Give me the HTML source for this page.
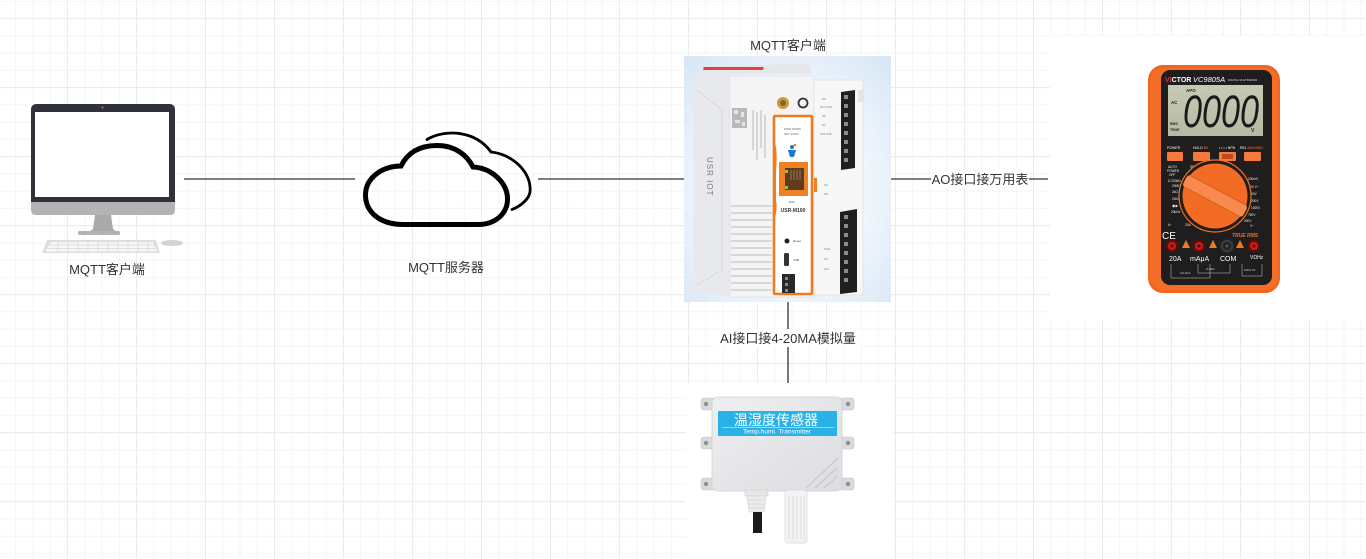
<!DOCTYPE html>
<html><head><meta charset="utf-8"><style>
html,body{margin:0;padding:0;}
body{width:1366px;height:559px;overflow:hidden;position:relative;background-color:#fff;
background-image:
linear-gradient(to right,#ebebeb 1px,transparent 1px),
linear-gradient(to bottom,#ebebeb 1px,transparent 1px),
linear-gradient(to right,#f4f4f4 1px,transparent 1px),
linear-gradient(to bottom,#f4f4f4 1px,transparent 1px);
background-size:69px 100%,100% 69px,17.25px 100%,100% 17.25px;
background-position:67px 0,0 18.15px,15.25px 0,0 0.9px;
font-family:"Liberation Sans","Noto Sans CJK SC",sans-serif;}
svg{position:absolute;left:0;top:0;}
text{font-family:"Liberation Sans","Noto Sans CJK SC",sans-serif;}
</style></head><body>
<svg width="1366" height="559" viewBox="0 0 1366 559" xmlns="http://www.w3.org/2000/svg">
<defs>
<radialGradient id="devbg" cx="50%" cy="55%" r="75%">
<stop offset="0.25" stop-color="#ffffff"/><stop offset="1" stop-color="#d6e5f6"/>
</radialGradient>
<linearGradient id="boxg" x1="0" y1="0" x2="1" y2="1">
<stop offset="0" stop-color="#eeeff1"/><stop offset="1" stop-color="#dcdde0"/>
</linearGradient>
<linearGradient id="lcdg" x1="0" y1="0" x2="0" y2="1">
<stop offset="0" stop-color="#c7c9b4"/><stop offset="1" stop-color="#b7baa3"/>
</linearGradient>
</defs>

<!-- connectors -->
<g stroke="#333" stroke-width="1.3" fill="none">
<line x1="184" y1="179" x2="355" y2="179"/>
<line x1="538" y1="179" x2="684" y2="179"/>
<line x1="891" y1="179" x2="1048" y2="179"/>
<line x1="788" y1="302" x2="788" y2="383"/>
</g>

<!-- computer -->
<g>
<rect x="31" y="104" width="144" height="104" rx="5" fill="#30323a"/>
<path d="M31,202 H175 V210 Q175,215 170,215 H36 Q31,215 31,210 Z" fill="#b3b3b3"/>
<rect x="35" y="112" width="134" height="85" fill="#fff"/>
<circle cx="102.5" cy="107.5" r="1" fill="#8a8a8a"/>
<path d="M95,215 L111,215 L113,229 L117,232 L89,232 L93,229 Z" fill="#aaaaaa"/>
<rect x="78" y="231" width="42" height="4" rx="1.5" fill="#b3b3b3"/>
<path d="M47,240 L156,240 L160,253 L42,253 Z" fill="#dedede"/>
<g fill="#f7f7f7">
<rect x="50" y="242" width="103" height="2.5"/>
<rect x="48" y="245.5" width="107" height="2.5"/>
<rect x="46" y="249" width="111" height="2.5"/>
</g>
<g stroke="#dedede" stroke-width="1">
<path d="M58,241V252M68,241V252M78,241V252M88,241V252M98,241V252M108,241V252M118,241V252M128,241V252M138,241V252M148,241V252"/>
</g>
<ellipse cx="172" cy="243" rx="11" ry="3" fill="#d3d3d3"/>
</g>

<!-- cloud -->
<g fill="none" stroke="#000" stroke-linecap="round">
<path stroke-width="5" d="M403,224.5 C380,224.5 365.5,212 365.5,195 C365.5,178 382,166 401,166 C408,152 420,145.5 437,145.5 C455,145.5 467,155 473,167 C492,168 507.5,183 507.5,199 C507.5,214 495,224.5 478,224.5 Z"/>
<path stroke-width="2.8" d="M427,139.5 C445,129 475,130 491,152 C512,154 532,172 530,192 C529,199 521,206 512,209.5"/>
</g>

<!-- device image -->
<g>
<rect x="684" y="56" width="207" height="246" fill="url(#devbg)"/>
<!-- top face -->
<path d="M697,74 L703,66 L808,64 L813,74 Z" fill="#e6e7ea"/>
<rect x="703" y="67" width="60" height="3" fill="#e34040" transform="skewX(-8) translate(10,0)"/>
<!-- left module -->
<path d="M693,77 L730,72 L730,296 L697,292 L693,289 Z" fill="#e8e9ec"/>
<path d="M697,90 L722,110 L722,270 L697,285" fill="none" stroke="#d6d7db" stroke-width="1"/>
<text x="0" y="0" font-size="8" fill="#7a7a7a" transform="translate(707,157) rotate(90)" letter-spacing="1">USR  IOT</text>
<!-- middle module -->
<rect x="730" y="76" width="84" height="221" fill="#f4f4f5"/>
<rect x="730" y="76" width="84" height="221" fill="none" stroke="#e2e2e4" stroke-width="0.8"/>
<rect x="732" y="108" width="15" height="20" fill="#b9b9b9"/>
<g fill="#e4e4e4"><rect x="734" y="110" width="4" height="4"/><rect x="741" y="112" width="3" height="5"/><rect x="735" y="120" width="5" height="3"/><rect x="742" y="122" width="3" height="4"/></g>
<g stroke="#aaa" stroke-width="0.8"><path d="M753,110V150M757,112V160M761,110V148M765,115V158"/></g>
<g stroke="#cfcfd2" stroke-width="1.6"><path d="M731,206H772M731,213H772M731,220H772M731,227H772M731,234H772M731,241H772M731,248H772M731,255H772M731,262H772M731,269H772M731,276H772M731,283H772M731,290H772"/></g>
<!-- orange panel -->
<rect x="774" y="116" width="38" height="178" fill="#fff" stroke="#f07a1e" stroke-width="2.6" rx="1"/>
<path d="M774,140 Q778,150 776,170 L776,200 Q778,210 774,220 Z" fill="#f07a1e"/>
<circle cx="783" cy="103" r="6" fill="#c99a3c"/><circle cx="783" cy="103" r="3" fill="#8a6420"/>
<circle cx="803" cy="103" r="4.5" fill="none" stroke="#333" stroke-width="1.8"/>
<g font-size="3" fill="#666"><text x="784" y="130">PWR WORK</text><text x="784" y="135">NET DATA</text></g>
<circle cx="792" cy="147" r="2" fill="#1e7ad0"/><path d="M788,150 L796,150 L794,157 L790,157 Z" fill="#1e7ad0"/><circle cx="795" cy="145" r="1.3" fill="#f07a1e"/>
<rect x="779" y="162" width="29" height="34" fill="#f08024"/>
<rect x="785" y="168" width="19" height="22" fill="#5c3d22"/>
<g stroke="#c7a070" stroke-width="0.6"><path d="M791,170V180M794,170V180M797,170V180M800,170V180"/></g>
<rect x="785" y="170" width="3" height="3" fill="#7ccf3a"/><rect x="785" y="186" width="3" height="3" fill="#7ccf3a"/>
<text x="792" y="203" font-size="3" fill="#555" text-anchor="middle">Ethe</text>
<text x="793" y="212" font-size="5" font-weight="bold" fill="#333" text-anchor="middle">USR-M100</text>
<circle cx="787" cy="241" r="2.5" fill="#222"/><text x="793" y="242" font-size="3" fill="#444">Reset</text>
<rect x="784" y="253" width="5" height="13" rx="1.5" fill="#333"/><text x="793" y="261" font-size="3" fill="#444">USB</text>
<rect x="782" y="274" width="13" height="19" fill="#2a2a2a"/>
<g fill="#888"><rect x="785" y="277" width="3" height="3"/><rect x="785" y="283" width="3" height="3"/><rect x="785" y="289" width="3" height="3"/></g>
<!-- right module -->
<rect x="814" y="80" width="49" height="215" fill="#f7f7f8" stroke="#e0e0e2" stroke-width="0.8"/>
<rect x="858" y="90" width="6" height="12" fill="#e4e4e6"/>
<rect x="814" y="178" width="3" height="14" fill="#f08024"/>
<path d="M841,92 L855,90 L855,168 L841,170 Z" fill="#1f1f1f"/>
<g fill="#8c8c8c"><rect x="844" y="95" width="4" height="4"/><rect x="844" y="104" width="4" height="4"/><rect x="844" y="113" width="4" height="4"/><rect x="844" y="122" width="4" height="4"/><rect x="844" y="131" width="4" height="4"/><rect x="844" y="140" width="4" height="4"/><rect x="844" y="149" width="4" height="4"/><rect x="844" y="158" width="4" height="4"/></g>
<path d="M840,212 L857,209 L857,292 L840,294 Z" fill="#1f1f1f"/>
<g fill="#8c8c8c"><rect x="844" y="215" width="4" height="4"/><rect x="844" y="224" width="4" height="4"/><rect x="844" y="233" width="4" height="4"/><rect x="844" y="242" width="4" height="4"/><rect x="844" y="251" width="4" height="4"/><rect x="844" y="260" width="4" height="4"/><rect x="844" y="269" width="4" height="4"/><rect x="844" y="278" width="4" height="4"/></g>
<g font-size="2.5" fill="#777"><text x="822" y="100">NO</text><text x="820" y="108">DO1 COM</text><text x="822" y="117">NO</text><text x="822" y="126">NC</text><text x="820" y="135">DO2 COM</text><text x="824" y="186">DI1</text><text x="824" y="195">DI2</text><text x="824" y="250">COM</text><text x="824" y="260">AI2</text><text x="824" y="270">AO1</text></g>
</g>

<!-- sensor image -->
<g>
<rect x="686" y="383" width="207" height="176" fill="#fff"/>
<g fill="#d9dadc" stroke="#c4c5c8" stroke-width="0.6">
<rect x="701" y="398" width="14" height="12" rx="3"/><rect x="701" y="437" width="14" height="12" rx="3"/><rect x="701" y="478" width="14" height="12" rx="3"/>
<rect x="840" y="398" width="14" height="12" rx="3"/><rect x="840" y="437" width="14" height="12" rx="3"/><rect x="840" y="478" width="14" height="12" rx="3"/>
</g>
<g fill="#8e8f92"><circle cx="706" cy="404" r="2.2"/><circle cx="706" cy="443" r="2.2"/><circle cx="706" cy="484" r="2.2"/><circle cx="848" cy="404" r="2.2"/><circle cx="848" cy="443" r="2.2"/><circle cx="848" cy="484" r="2.2"/></g>
<rect x="712" y="397" width="130" height="94" rx="6" fill="url(#boxg)" stroke="#cfd0d3" stroke-width="0.8"/>
<rect x="718" y="411" width="119" height="25" fill="#2ab2e6"/>
<text x="776" y="425" font-size="14" fill="#fff" text-anchor="middle" font-family="Noto Sans CJK SC, sans-serif">温湿度传感器</text>
<line x1="722" y1="427.5" x2="834" y2="427.5" stroke="#fff" stroke-width="0.6"/>
<text x="777" y="433.5" font-size="6.5" fill="#fff" text-anchor="middle">Temp.humi. Transmitter</text>
<g stroke="#c9cacd" stroke-width="1.2"><path d="M806,488 L838,458M815,488 L838,467M824,488 L838,476"/></g>
<rect x="745" y="490" width="23" height="6" fill="#e6e6e6" stroke="#cfcfcf" stroke-width="0.6"/>
<path d="M747,496 H766 L764,512 H749 Z" fill="#ececec" stroke="#cfcfcf" stroke-width="0.6"/>
<g stroke="#d4d4d4" stroke-width="0.8"><path d="M748,500H765M748,504H765M749,508H764"/></g>
<rect x="753" y="512" width="9" height="21" fill="#1a1a1a"/>
<rect x="785" y="490" width="22" height="53" rx="3" fill="#f3f3f3" stroke="#d8d8d8" stroke-width="0.7"/>
<g stroke="#dadada" stroke-width="0.9"><path d="M789,496V539M793,496V539M797,496V539M801,496V539M804,496V539"/></g>
</g>

<!-- multimeter image -->
<g>
<rect x="1050" y="36" width="316" height="284" fill="#fff"/>
<rect x="1148" y="65" width="132" height="228" rx="15" fill="#f0651f"/>
<rect x="1150" y="68" width="128" height="222" rx="13" fill="#f46e27"/>
<rect x="1161" y="70" width="111" height="215" rx="9" fill="#1f1d1d"/>
<text x="1165" y="82" font-size="7" font-weight="bold" fill="#fff"><tspan fill="#e53030">VI</tspan>CTOR</text>
<text x="1193" y="82" font-size="7.5" font-style="italic" fill="#fff">VC9805A</text>
<text x="1228" y="81" font-size="2.8" fill="#ddd">DIGITAL MULTIMETER</text>
<rect x="1168" y="85" width="95" height="51" fill="url(#lcdg)"/>
<text x="1186" y="92" font-size="4.5" font-weight="bold" fill="#222">APO</text>
<text x="1171" y="104" font-size="4.5" font-weight="bold" fill="#222">AC</text>
<text x="1170" y="125" font-size="3.5" font-weight="bold" fill="#222">RMS</text>
<text x="1170" y="131" font-size="3.5" font-weight="bold" fill="#222">TRUE</text>
<text x="1251" y="132" font-size="5" font-weight="bold" fill="#222">V</text>
<text x="1183" y="127" font-size="45" font-style="italic" fill="#1a1a1a" textLength="76" lengthAdjust="spacingAndGlyphs">0000</text>
<g font-size="3.5" fill="#fff"><text x="1167" y="149">POWER</text><text x="1193" y="149">HOLD <tspan fill="#f47a3a">B/L</tspan></text><text x="1219" y="149">• • • •  NPN</text><text x="1240" y="149">REL <tspan fill="#f47a3a">MAX/MIN</tspan></text></g>
<g fill="#f57a3c"><rect x="1167" y="152" width="16" height="9" rx="1"/><rect x="1193" y="152" width="17" height="9" rx="1"/><rect x="1219" y="152" width="17" height="9" rx="1"/><rect x="1244" y="152" width="17" height="9" rx="1"/></g>
<g fill="#c04a1a"><rect x="1222" y="154" width="11" height="5"/></g>
<g font-size="3.2" fill="#eee">
<text x="1168" y="168">AUTO</text><text x="1167" y="172">POWER</text><text x="1169" y="176">OFF</text>
<text x="1168" y="182">Ω 200kΩ</text><text x="1172" y="187">20MΩ</text><text x="1172" y="193">2kΩ</text><text x="1172" y="200">200Ω</text><text x="1172" y="207">◆▶</text><text x="1171" y="213">20kHz</text>
<text x="1190" y="168">SELECT</text><text x="1208" y="167">°C°F</text><text x="1219" y="167">2nF</text><text x="1229" y="172">mF</text>
<text x="1248" y="180">200mV</text><text x="1250" y="188">2V  V~</text><text x="1251" y="195">20V</text><text x="1251" y="202">200V</text><text x="1251" y="209">1000V</text><text x="1248" y="216">750V</text><text x="1244" y="222">200V</text><text x="1250" y="227">V~</text>
<text x="1168" y="226">A~</text><text x="1185" y="226">20A</text><text x="1200" y="230">mA  μA</text><text x="1220" y="229">200mV</text>
</g>
<circle cx="1215" cy="196" r="36" fill="#1f1d1d" stroke="#f0701f" stroke-width="1.2"/>
<circle cx="1215" cy="196" r="32.5" fill="#f26c26"/>
<g transform="rotate(28 1215 196)">
<rect x="1181" y="189" width="68" height="14" rx="4" fill="#f88a4e"/>
<line x1="1184" y1="189.5" x2="1246" y2="189.5" stroke="#d55a1a" stroke-width="1"/>
<line x1="1184" y1="202.5" x2="1246" y2="202.5" stroke="#d55a1a" stroke-width="1"/>
</g>
<text x="1162" y="239" font-size="10" fill="#fff">CE</text>
<text x="1232" y="237" font-size="5" font-style="italic" font-weight="bold" fill="#f26c26">TRUE RMS</text>
<g fill="#f0781f"><path d="M1186,240 L1190,248 L1182,248 Z"/><path d="M1213,240 L1217,248 L1209,248 Z"/><path d="M1240,240 L1244,248 L1236,248 Z"/></g>
<g><circle cx="1172" cy="246" r="6.5" fill="#5c0e0e"/><circle cx="1172" cy="246" r="4" fill="#d01a1a"/><circle cx="1172" cy="246" r="1.5" fill="#2a0505"/>
<circle cx="1199" cy="246" r="6.5" fill="#5c0e0e"/><circle cx="1199" cy="246" r="4" fill="#d01a1a"/><circle cx="1199" cy="246" r="1.5" fill="#2a0505"/>
<circle cx="1227" cy="246" r="6.5" fill="#3a3a3a"/><circle cx="1227" cy="246" r="4" fill="#222"/><circle cx="1227" cy="246" r="1.5" fill="#555"/>
<circle cx="1254" cy="246" r="6.5" fill="#5c0e0e"/><circle cx="1254" cy="246" r="4" fill="#d01a1a"/><circle cx="1254" cy="246" r="1.5" fill="#2a0505"/></g>
<g font-size="7" fill="#fff"><text x="1169" y="261">20A</text><text x="1190" y="261">mAμA</text><text x="1220" y="261">COM</text><text x="1250" y="259" font-size="5">VΩHz</text></g>
<g fill="none" stroke="#ccc" stroke-width="0.5"><path d="M1171,264 V278 H1210 V264"/><path d="M1198,264 V273 H1230 V264"/><path d="M1242,264 V276 H1262 V264"/></g>
<g font-size="2.5" fill="#ccc"><text x="1180" y="274">10A MAX</text><text x="1206" y="270">FUSED</text><text x="1244" y="271">1000V DC</text></g>
</g>

<!-- labels -->
<g font-size="13" fill="#333" text-anchor="middle">
<text x="107" y="274">MQTT客户端</text>
<text x="446" y="272">MQTT服务器</text>
<text x="788" y="50">MQTT客户端</text>
</g>
<rect x="931" y="171" width="98" height="17" fill="#fff"/>
<text x="980" y="184" font-size="13" fill="#333" text-anchor="middle">AO接口接万用表</text>
<rect x="716" y="329" width="145" height="18" fill="#fff"/>
<text x="788" y="343" font-size="13" fill="#333" text-anchor="middle">AI接口接4-20MA模拟量</text>
</svg>
</body></html>
